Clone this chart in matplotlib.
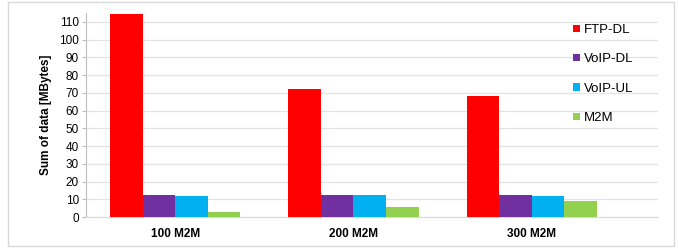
import matplotlib.pyplot as plt
import numpy as np
from matplotlib.patches import Rectangle

categories = ['100 M2M', '200 M2M', '300 M2M']
series = ['FTP-DL', 'VoIP-DL', 'VoIP-UL', 'M2M']
ftp_dl = [114.6, 71.9, 68.1]
voip_dl = [12.2, 12.4, 12.4]
voip_ul = [12.1, 12.2, 12.1]
m2m = [2.6, 5.5, 8.8]
colors = ['#FF0000', '#7030A0', '#00B0F0', '#92D050']
yticks = list(range(0, 111, 10))

plt.rcParams['font.family'] = ['Liberation Sans', 'DejaVu Sans']

fig = plt.figure(figsize=(6.78, 2.48), dpi=100)
ax = fig.add_axes([86 / 678, 1 - 217 / 248, (658 - 86) / 678, (217 - 13) / 248])

x = np.arange(len(categories))
width = 0.183
for i, (name, vals) in enumerate(zip(series, [ftp_dl, voip_dl, voip_ul, m2m])):
    ax.bar(x + (i - 1.5) * width, vals, width, color=colors[i], label=name, zorder=3)

ax.set_xlim(-0.5, 2.708)
ax.set_ylim(0, 115)
ax.set_yticks(yticks)
ax.set_xticks(x)
ax.set_xticklabels(categories, fontsize=8.5, fontweight='bold')
ax.tick_params(axis='y', labelsize=8.5, length=3, color='#bfbfbf', pad=2)
ax.tick_params(axis='x', length=0, pad=8)
ax.grid(axis='y', color='#e3e3e3', linewidth=0.9, zorder=0)
for s in ['top', 'right']:
    ax.spines[s].set_visible(False)
ax.spines['left'].set_color('#bfbfbf')
ax.spines['bottom'].set_color('#d9d9d9')
ax.set_ylabel('Sum of data [MBytes]', fontsize=8.5, fontweight='bold', labelpad=5)

ax.legend(loc='upper left', bbox_to_anchor=(573 / 678, 1 - 24 / 248), bbox_transform=fig.transFigure,
          frameon=False, fontsize=9.5, handlelength=0.5, handleheight=0.5, handletextpad=0.3,
          labelspacing=1.32, borderaxespad=0, borderpad=0)

fig.patches.append(Rectangle((8 / 678, 2 / 248), 666 / 678, 244 / 248, transform=fig.transFigure,
                             fill=False, edgecolor='#d9d9d9', linewidth=1))

fig.savefig('out.png', dpi=100)
